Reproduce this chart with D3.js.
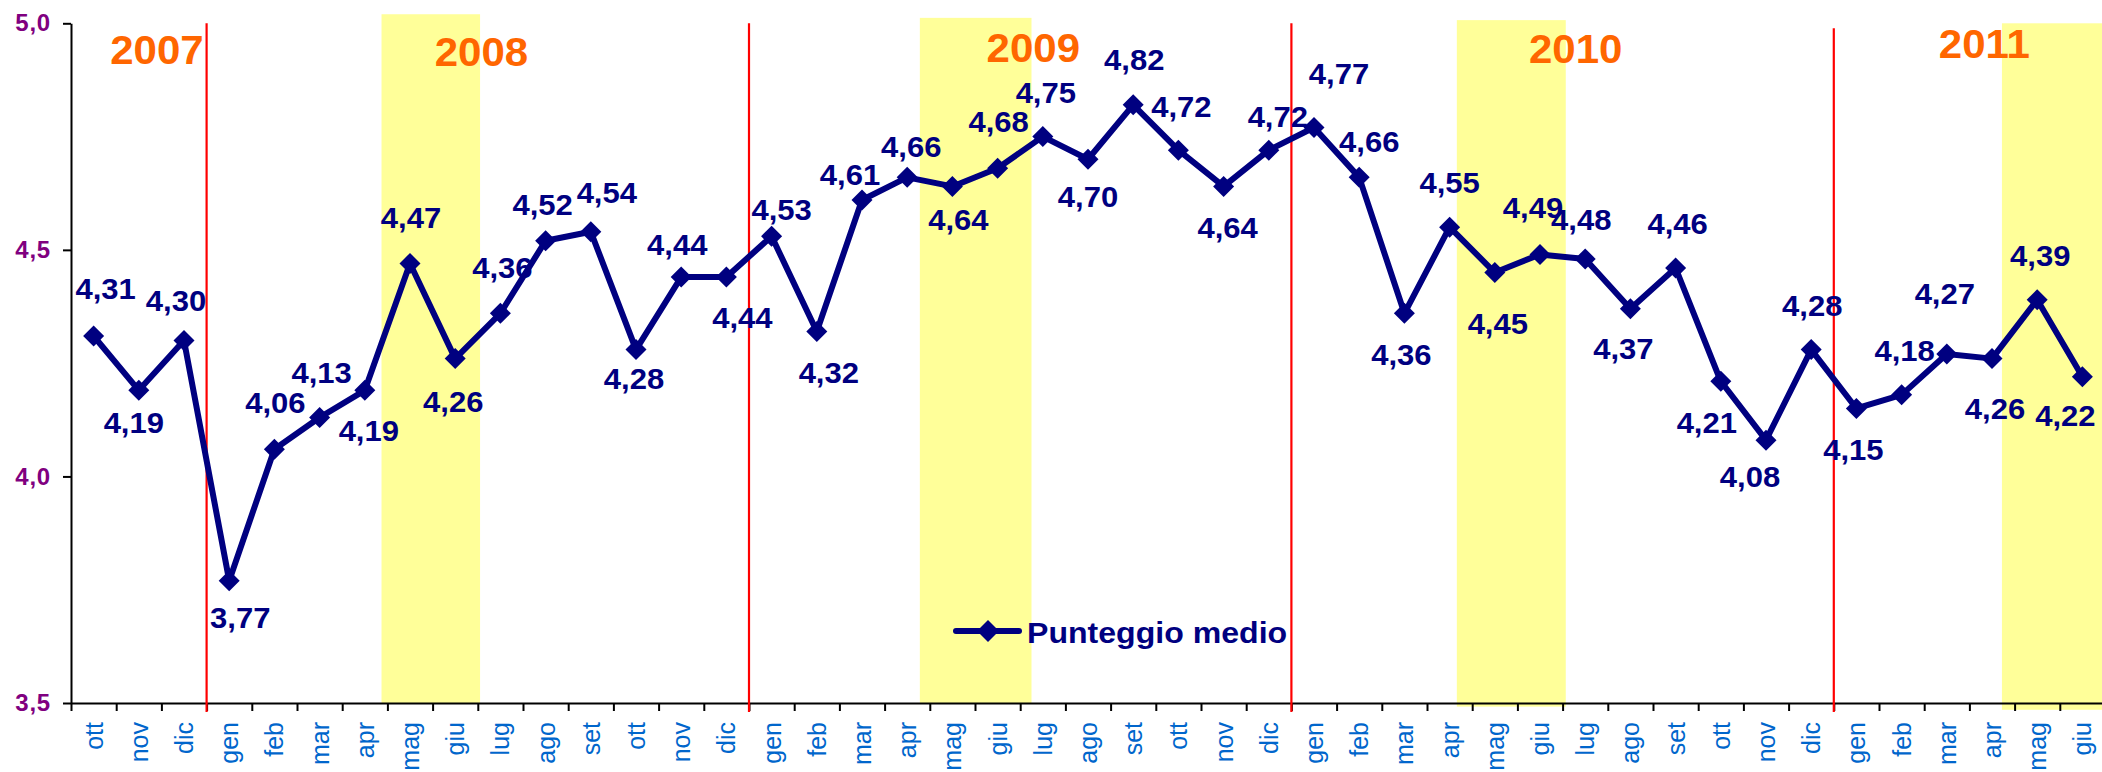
<!DOCTYPE html>
<html>
<head>
<meta charset="utf-8">
<script src="https://cdn.jsdelivr.net/npm/d3@7"></script>
<style>
  html, body { margin: 0; padding: 0; background: #fff; overflow: hidden; }
  svg { display: block; }
  text { font-family: "Liberation Sans", Arial, sans-serif; }
</style>
</head>
<body>
<svg id="chart" width="2102" height="772"></svg>
<script>
// ---------------- data ----------------
const months = ["ott","nov","dic",
  "gen","feb","mar","apr","mag","giu","lug","ago","set","ott","nov","dic",
  "gen","feb","mar","apr","mag","giu","lug","ago","set","ott","nov","dic",
  "gen","feb","mar","apr","mag","giu","lug","ago","set","ott","nov","dic",
  "gen","feb","mar","apr","mag","giu"];
const scores = [4.31,4.19,4.30,
  3.77,4.06,4.13,4.19,4.47,4.26,4.36,4.52,4.54,4.28,4.44,4.44,
  4.53,4.32,4.61,4.66,4.64,4.68,4.75,4.70,4.82,4.72,4.64,4.72,
  4.77,4.66,4.36,4.55,4.45,4.49,4.48,4.37,4.46,4.21,4.08,4.28,
  4.15,4.18,4.27,4.26,4.39,4.22];
const seriesName = "Punteggio medio";
const yTicks = [3.5, 4.0, 4.5, 5.0];
const years = ["2007","2008","2009","2010","2011"];
const yearStartIndex = [3, 15, 27, 39];           // boundaries (first "gen" of each year)

// annotation layout (category units / value units / pixel offsets)
const yearLabelPos = [1.90, 9.08, 21.29, 33.29, 42.33];
const yearLabelVal = [4.910, 4.905, 4.915, 4.913, 4.923];
const dividerTopVal = [5.0, 5.0, 5.0, 4.989];
const bandFrom = [6.87, 18.78, 30.66, 42.72];
const bandTo   = [9.05, 21.25, 33.07, 47];
const bandTop  = [5.02, 5.012, 5.007, 5.0];
const bandBot  = [3.5, 3.5, 3.492, 3.485];
const labelOffsets = [
  [12,-37],[-5,43],[-8,-29],
  [11,47],[1,-36],[2,-35],[4,51],[1,-35],[-2,53],[2,-35],[-3,-26],[16,-29],[-2,39],[-4,-22],[16,51],
  [10,-16],[12,52],[-12,-15],[4,-20],[6,44],[1,-36],[3,-34],[0,48],[1,-35],[3,-33],[4,52],[9,-23],
  [25,-44],[10,-25],[-3,52],[0,-34],[3,61],[-7,-36],[-4,-29],[-7,50],[2,-34],[-14,52],[-16,47],[1,-34],
  [-3,52],[3,-34],[-2,-50],[3,60],[3,-34],[-17,49]
];

// ---------------- scales ----------------
const svg = d3.select("#chart");
const x = d3.scaleLinear().domain([0, months.length]).range([71, 2105]);
const y = d3.scaleLinear().domain([3.5, 5.0]).range([703, 23.3]);
const cx = i => x(i + 0.5);
const fmt = v => v.toFixed(2).replace(".", ",");

const NAVY = "#000080";

// ---------------- highlight bands ----------------
svg.append("g").selectAll("rect").data(bandFrom).join("rect")
  .attr("x", (d, i) => x(d))
  .attr("width", (d, i) => x(bandTo[i]) - x(d))
  .attr("y", (d, i) => y(bandTop[i]))
  .attr("height", (d, i) => y(bandBot[i]) - y(bandTop[i]))
  .attr("fill", "#FFFF99");

// ---------------- axes ----------------
const xAxis = d3.axisBottom(x)
  .tickValues(d3.range(0, months.length + 1))
  .tickFormat("")
  .tickSizeInner(8)
  .tickSizeOuter(0);
const gx = svg.append("g").attr("transform", `translate(0,${y(3.5)})`).call(xAxis);
gx.selectAll("path, line").attr("stroke", "#000").attr("stroke-width", 2);

const yAxis = d3.axisLeft(y)
  .tickValues(yTicks)
  .tickFormat(d => d.toFixed(1).replace(".", ","))
  .tickSizeInner(8)
  .tickSizeOuter(0)
  .tickPadding(12);
const gy = svg.append("g").attr("transform", `translate(${x(0)},0)`).call(yAxis);
gy.selectAll("path, line").attr("stroke", "#000").attr("stroke-width", 2);
gy.selectAll("text")
  .attr("fill", "#800080")
  .attr("font-size", 24)
  .attr("letter-spacing", 0.8)
  .attr("font-weight", "bold")
  .attr("font-family", "'Liberation Sans', Arial, sans-serif");

// month labels (rotated)
svg.append("g").selectAll("text").data(months).join("text")
  .attr("transform", (d, i) => `translate(${cx(i)},722) rotate(-90)`)
  .attr("text-anchor", "end")
  .attr("dy", 9)
  .attr("font-size", 25)
  .attr("fill", "#0066CC")
  .text(d => d);

// ---------------- year dividers ----------------
svg.append("g").selectAll("line").data(yearStartIndex).join("line")
  .attr("x1", d => x(d)).attr("x2", d => x(d))
  .attr("y1", (d, i) => y(dividerTopVal[i]))
  .attr("y2", y(3.5) + 9)
  .attr("stroke", "#FF0000")
  .attr("stroke-width", 2.2);

// year labels
svg.append("g").selectAll("text").data(years).join("text")
  .attr("transform", (d, i) => `translate(${x(yearLabelPos[i])},${y(yearLabelVal[i])}) scale(1.05,1)`)
  .attr("text-anchor", "middle")
  .attr("font-size", 40)
  .attr("font-weight", "bold")
  .attr("fill", "#FF6600")
  .text(d => d);

// ---------------- series ----------------
const line = d3.line().x((d, i) => cx(i)).y(d => y(d));
svg.append("path")
  .datum(scores)
  .attr("d", line)
  .attr("fill", "none")
  .attr("stroke", NAVY)
  .attr("stroke-width", 6)
  .attr("stroke-linejoin", "round");

const diamond = r => `M0,${-r}L${r},0L0,${r}L${-r},0Z`;
svg.append("g").selectAll("path").data(scores).join("path")
  .attr("transform", (d, i) => `translate(${cx(i)},${y(d)})`)
  .attr("d", diamond(10.5))
  .attr("fill", NAVY);

// data labels
svg.append("g").selectAll("text").data(scores).join("text")
  .attr("transform", (d, i) => `translate(${cx(i) + labelOffsets[i][0]},${y(d) + labelOffsets[i][1]}) scale(1.07,1)`)
  .attr("text-anchor", "middle")
  .attr("font-size", 29)
  .attr("font-weight", "bold")
  .attr("fill", NAVY)
  .text(d => fmt(d));

// ---------------- legend ----------------
const legend = svg.append("g").attr("transform", "translate(956,631)");
legend.append("line")
  .attr("x1", 0).attr("x2", 63).attr("y1", 0).attr("y2", 0)
  .attr("stroke", NAVY).attr("stroke-width", 6).attr("stroke-linecap", "round");
legend.append("path")
  .attr("transform", "translate(32,0)")
  .attr("d", diamond(11))
  .attr("fill", NAVY);
legend.append("text")
  .attr("transform", "translate(71,12) scale(1.07,1)")
  .attr("font-size", 30)
  .attr("font-weight", "bold")
  .attr("fill", NAVY)
  .text(seriesName);
</script>
</body>
</html>
